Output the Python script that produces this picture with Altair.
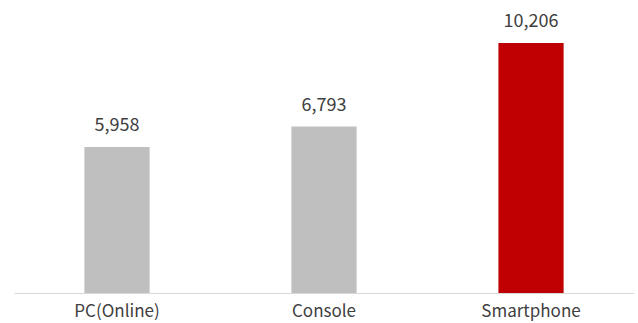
import altair as alt
import pandas as pd

categories = ["PC(Online)", "Console", "Smartphone"]
values = [5958, 6793, 10206]
colors = ["#BFBFBF", "#BFBFBF", "#C00000"]

df = pd.DataFrame({"cat": categories, "val": values, "col": colors})
df["label"] = df["val"].map(lambda v: f"{v:,}")

FONT = "Noto Sans CJK KR"

x = alt.X("cat:N", sort=categories, title=None,
          scale=alt.Scale(paddingInner=0.685, paddingOuter=0.34),
          axis=alt.Axis(labelAngle=0, ticks=False, domainColor="#D9D9D9", domainWidth=1,
                        labelFont=FONT, labelFontSize=17, labelColor="#404040",
                        labelPadding=10))
y = alt.Y("val:Q", title=None, scale=alt.Scale(domain=[0, 11961], nice=False),
          axis=None)

bars = alt.Chart(df).mark_bar().encode(
    x=x, y=y, color=alt.Color("col:N", scale=None)
)
text = alt.Chart(df).mark_text(dy=-16, baseline="alphabetic", font=FONT, fontSize=18,
                               color="#404040").encode(
    x=alt.X("cat:N", sort=categories), y="val:Q", text="label:N"
)

chart = (bars + text).properties(
    width=620, height=293,
    autosize=alt.AutoSizeParams(type="none"),
    padding={"left": 14, "top": 0, "right": 4, "bottom": 30},
).configure_view(stroke=None)

chart.save("out.html", embed_options={"renderer": "svg", "actions": False})
